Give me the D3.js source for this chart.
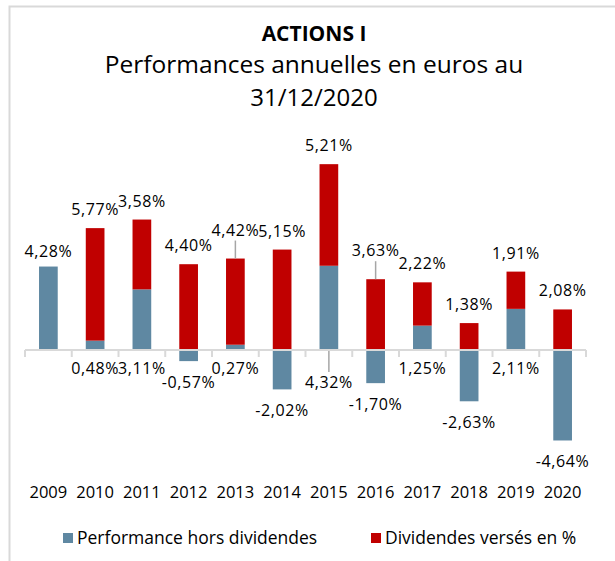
<!DOCTYPE html>
<html><head><meta charset="utf-8">
<script src="https://cdn.jsdelivr.net/npm/d3@7"></script>
<style>
html,body{margin:0;padding:0;background:#fff;}
text{font-family:"Open Sans","Noto Sans",sans-serif;fill:#000;}
</style></head>
<body>
<svg id="chart" width="615" height="561"></svg>
<script>
const titleLines = ["ACTIONS I", "Performances annuelles en euros au", "31/12/2020"];
const years = ["2009","2010","2011","2012","2013","2014","2015","2016","2017","2018","2019","2020"];
const perfHorsDiv = [4.28, 0.48, 3.11, -0.57, 0.27, -2.02, 4.32, -1.70, 1.25, -2.63, 2.11, -4.64];
const dividendes = [null, 5.77, 3.58, 4.40, 4.42, 5.15, 5.21, 3.63, 2.22, 1.38, 1.91, 2.08];
const seriesNames = ["Performance hors dividendes", "Dividendes versés en %"];
const colors = ["#5f88a2", "#c00000"];
const leaderRed = ["2013", "2016"];
const leaderBlue = ["2015"];

const svg = d3.select("#chart");
const fmt = v => d3.format(".2f")(v).replace(".", ",").replace("\u2212", "-") + "%";

// frame
svg.append("rect").attr("x", 9.5).attr("y", 6.5).attr("width", 700).attr("height", 700)
  .attr("fill", "none").attr("stroke", "#d9d9d9").attr("stroke-width", 2);

// title
const title = svg.append("g").attr("text-anchor", "middle");
title.append("text").attr("x", 314).attr("y", 41).attr("font-size", 21).attr("font-weight", "bold").text(titleLines[0]);
title.append("text").attr("x", 314).attr("y", 73).attr("font-size", 24.5).text(titleLines[1]);
title.append("text").attr("x", 314).attr("y", 106).attr("font-size", 24).text(titleLines[2]);

const x = d3.scaleBand().domain(years).range([25, 586]).paddingInner(0.6).paddingOuter(0.3);
const y = d3.scaleLinear().domain([-5, 10]).range([447.5, 155]);

const rows = years.map((yr, i) => ({year: yr, perf: perfHorsDiv[i], div: dividendes[i] || 0}));
const stack = d3.stack().keys(["perf", "div"]).offset(d3.stackOffsetDiverging);
const stacked = stack(rows);

stacked.forEach((s, si) => {
  svg.append("g").selectAll("rect").data(s).join("rect")
    .attr("x", d => x(d.data.year))
    .attr("width", x.bandwidth())
    .attr("y", d => y(Math.max(d[0], d[1])))
    .attr("height", d => Math.abs(y(d[0]) - y(d[1])))
    .attr("fill", colors[si]);
});

// axis line with category ticks
const step = x.step();
const gap = (step - x.bandwidth()) / 2;
const axisG = svg.append("g");
axisG.append("line").attr("x1", 25).attr("x2", 586).attr("y1", y(0)).attr("y2", y(0))
  .attr("stroke", "#d9d9d9").attr("stroke-width", 2);
const bounds = years.map(yr => x(yr) - gap).concat([x(years[years.length-1]) + x.bandwidth() + gap]);
axisG.selectAll("line.tick").data(bounds).join("line").attr("class", "tick")
  .attr("x1", d => d).attr("x2", d => d).attr("y1", y(0)).attr("y2", y(0) + 7)
  .attr("stroke", "#d9d9d9").attr("stroke-width", 2);

// year labels
svg.append("g").selectAll("text").data(years).join("text")
  .attr("x", d => x(d) + x.bandwidth() / 2).attr("y", 498)
  .attr("text-anchor", "middle").attr("font-size", 16.5).text(d => d);

// data labels
const lab = svg.append("g").attr("text-anchor", "middle").attr("font-size", 16).attr("letter-spacing", 0.6);
rows.forEach((r, i) => {
  const cx = x(r.year) + x.bandwidth() / 2;
  const s1 = stacked[1][i];
  if (dividendes[i] !== null) {
    const top = y(s1[1]);
    const lead = leaderRed.includes(r.year);
    const cy = top - (lead ? 29 : 19);
    lab.append("text").attr("x", cx).attr("y", cy + 6).text(fmt(r.div));
    if (lead) svg.append("line").attr("x1", cx).attr("x2", cx).attr("y1", cy + 11).attr("y2", top)
      .attr("stroke", "#a6a6a6").attr("stroke-width", 1.5);
  }
  let cy;
  if (r.perf >= 0 && dividendes[i] === null) {
    cy = y(r.perf) - 16;
  } else if (r.perf >= 0) {
    const lead = leaderBlue.includes(r.year);
    cy = y(0) + (lead ? 32 : 18);
    if (lead) svg.append("line").attr("x1", cx).attr("x2", cx).attr("y1", y(0) + 1).attr("y2", cy - 10)
      .attr("stroke", "#a6a6a6").attr("stroke-width", 1.5);
  } else {
    cy = y(r.perf) + 21;
  }
  lab.append("text").attr("x", cx).attr("y", cy + 6).text(fmt(r.perf));
});

// legend
const leg = svg.append("g");
const legX = [63, 371];
seriesNames.forEach((n, i) => {
  leg.append("rect").attr("x", legX[i]).attr("y", 533).attr("width", 10).attr("height", 10).attr("fill", colors[i]);
  leg.append("text").attr("x", legX[i] + 14).attr("y", 544).attr("font-size", 17.5).text(n);
});
</script>
</body></html>
